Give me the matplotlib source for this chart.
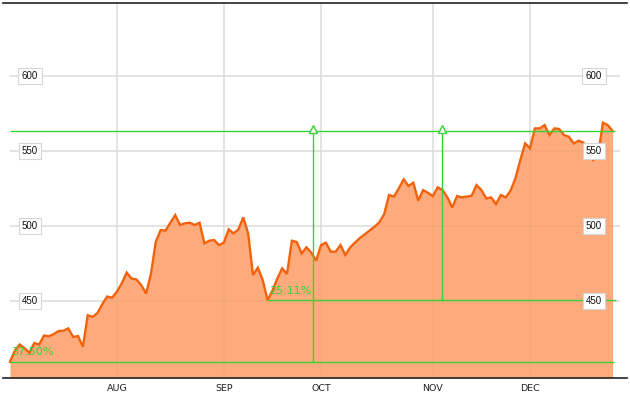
import matplotlib
matplotlib.use("Agg")
import matplotlib.pyplot as plt
import matplotlib.transforms as mtransforms
import numpy as np

# ---- data (trading-day index -> price) ----
prices = [
    409.5, 417, 421, 418.5, 415.5, 422, 421, 427, 426.5, 428,
    430, 430.2, 431.8, 426, 426.7, 419.5, 440.5, 439.5, 442, 448,
    453, 452.2, 456.2, 461.8, 469, 465, 464.4, 460.7, 455, 468,
    489.5, 497.3, 497, 502.2, 507.3, 500.7, 501.8, 502.2, 500.7, 502.2,
    488.4, 490.2, 490.7, 487.3, 488.9, 497.8, 495.1, 497.8, 505.8, 495.1,
    467.3, 472.2, 464, 450.5, 457, 465, 471.8, 468, 490.2, 489.3,
    481.8, 485.8, 482.2, 476.9, 487.3, 488.9, 482.9, 482.9, 487.3, 480.7,
    485.8, 489, 492, 494.5, 497, 499.5, 502.5, 508, 520.7, 519.6,
    525.1, 531.1, 526.7, 528.9, 516.9, 524, 522.2, 520, 525.8, 524,
    519.1, 512.4, 520, 519.1, 519.6, 520.2, 527.3, 524, 518.4, 519.1,
    514.7, 520.7, 519.1, 523.6, 531.8, 544, 555.1, 551.8, 565.1, 565.1,
    567.3, 560.7, 565.1, 564.7, 560.7, 559.5, 555.1, 556.9, 555.6, 549,
    544, 547, 568.9, 567.3, 563.3,
]
month_labels = ["AUG", "SEP", "OCT", "NOV", "DEC"]
month_pos = [22, 44, 64, 87, 107]
y_ticks = [450, 500, 550, 600]

# annotation levels
high_level = 563.3
low1_level, low1_idx = 409.5, 0
low2_level, low2_idx = 450.5, 53
arrow1_x, arrow2_x = 62.3, 88.9
pct1 = "37.50%"
pct2 = "25.11%"

x = np.arange(len(prices))

W, H = 630, 397
fig = plt.figure(figsize=(W / 100, H / 100), dpi=100)
ax = fig.add_axes([3 / W, 1 - 378 / H, 624 / W, 375 / H])

ppd = 4.86  # pixels per trading day
x0 = 10
ax.set_xlim((3 - x0) / ppd, (627 - x0) / ppd)
ax.set_ylim(398.7, 648.7)

grid_c = "#e6e6e6"
# horizontal grid
ax.hlines(y_ticks, 0, (620 - x0) / ppd, color=grid_c, lw=1.3, zorder=1)
# vertical grid
ax.vlines(month_pos, 398.7, 648.7, color=grid_c, lw=1.3, zorder=1)

# area + line
ax.fill_between(x, prices, 398.7, color="#fdab7c", lw=0, zorder=2)
ax.plot(x, prices, color="#f2620c", lw=1.7, zorder=4, solid_joinstyle="miter")

# faint grid over the fill
ax.hlines(y_ticks, 0, (620 - x0) / ppd, color="#000000", alpha=0.025, lw=1.3, zorder=3)
ax.vlines(month_pos, 398.7, 648.7, color="#000000", alpha=0.025, lw=1.3, zorder=3)

green = "#36d236"
ax.hlines(high_level, 0, (615 - x0) / ppd, color=green, lw=1.0, zorder=5)
ax.hlines(low1_level, low1_idx, (614 - x0) / ppd, color=green, lw=1.0, zorder=5)
ax.hlines(low2_level, low2_idx, (616 - x0) / ppd, color=green, lw=1.0, zorder=5)
ax.vlines(arrow1_x, low1_level, high_level, color=green, lw=1.0, zorder=5)
ax.vlines(arrow2_x, low2_level, high_level, color=green, lw=1.0, zorder=5)
ax.plot([arrow1_x, arrow2_x], [high_level + 1.3, high_level + 1.3], ls="none",
        marker="^", ms=6, mfc="white", mec=green, mew=1.0, zorder=6)

ax.text(low1_idx + 0.3, low1_level + 3.0, pct1, color=green, fontsize=8,
        ha="left", va="bottom", zorder=6)
ax.text(low2_idx + 0.3, low2_level + 3.0, pct2, color=green, fontsize=8,
        ha="left", va="bottom", zorder=6)

# y labels in boxes on both sides
trans = mtransforms.blended_transform_factory(fig.transFigure, ax.transData)
for v in y_ticks:
    for px in (30, 594):
        ax.text(px / W, v, str(v), transform=trans, fontsize=7,
                family="Liberation Sans", ha="center", va="center", zorder=7,
                color="#111111",
                bbox=dict(boxstyle="square,pad=0.35", fc="white", ec="#d6d6d6", lw=0.8))

# axes styling
for s in ("left", "right"):
    ax.spines[s].set_visible(False)
for s in ("top", "bottom"):
    ax.spines[s].set_color("#222222")
    ax.spines[s].set_linewidth(1.2)
ax.set_yticks([])
ax.set_xticks(month_pos)
ax.set_xticklabels(month_labels, fontsize=6.8, color="#222222")
ax.tick_params(axis="x", length=0, pad=4)

fig.savefig("out.png", dpi=100)
